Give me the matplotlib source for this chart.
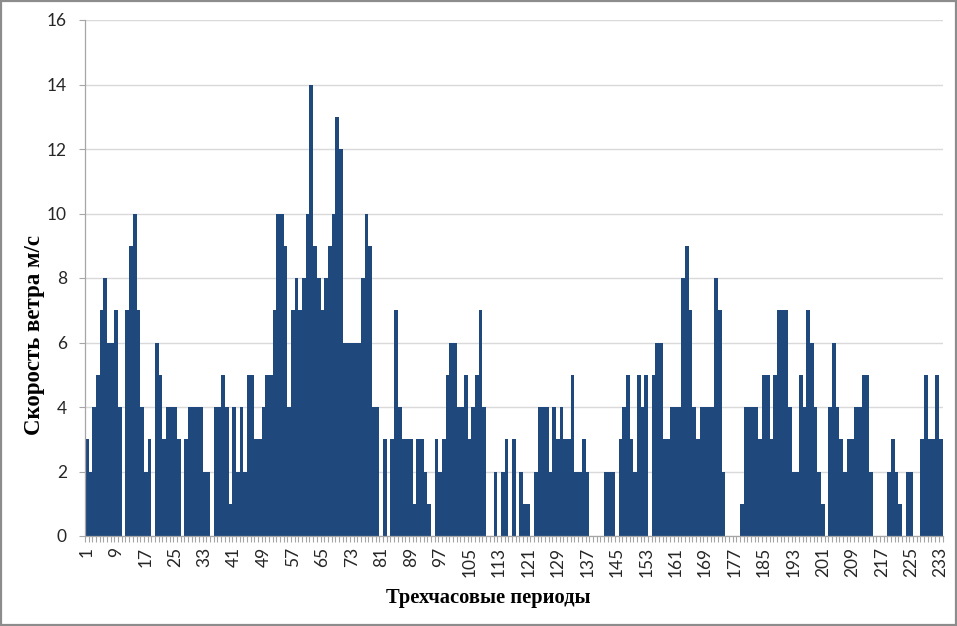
import matplotlib
matplotlib.use("Agg")
import matplotlib.pyplot as plt
from matplotlib.patches import Rectangle
import numpy as np

# Wind speed (m/s) for each three-hour period
periods = list(range(1, 234))
wind_speed = [
    3, 2, 4, 5, 7, 8, 6, 6, 7, 4,      # 1-10
    0, 7, 9, 10, 7, 4, 2, 3, 0, 6,     # 11-20
    5, 3, 4, 4, 4, 3, 0, 3, 4, 4,      # 21-30
    4, 4, 2, 2, 0, 4, 4, 5, 4, 1,      # 31-40
    4, 2, 4, 2, 5, 5, 3, 3, 4, 5,      # 41-50
    5, 7, 10, 10, 9, 4, 7, 8, 7, 8,    # 51-60
    10, 14, 9, 8, 7, 8, 9, 10, 13, 12, # 61-70
    6, 6, 6, 6, 6, 8, 10, 9, 4, 4,     # 71-80
    0, 3, 0, 3, 7, 4, 3, 3, 3, 1,      # 81-90
    3, 3, 2, 1, 0, 3, 2, 3, 5, 6,      # 91-100
    6, 4, 4, 5, 3, 4, 5, 7, 4, 0,      # 101-110
    0, 2, 0, 2, 3, 0, 3, 0, 2, 1,      # 111-120
    1, 0, 2, 4, 4, 4, 2, 4, 3, 4,      # 121-130
    3, 3, 5, 2, 2, 3, 2, 0, 0, 0,      # 131-140
    0, 2, 2, 2, 0, 3, 4, 5, 3, 2,      # 141-150
    5, 4, 5, 0, 5, 6, 6, 3, 3, 4,      # 151-160
    4, 4, 8, 9, 7, 4, 3, 4, 4, 4,      # 161-170
    4, 8, 7, 2, 0, 0, 0, 0, 1, 4,      # 171-180
    4, 4, 4, 3, 5, 5, 3, 5, 7, 7,      # 181-190
    7, 4, 2, 2, 5, 4, 7, 6, 4, 2,      # 191-200
    1, 0, 4, 6, 4, 3, 2, 3, 3, 4,      # 201-210
    4, 5, 5, 2, 0, 0, 0, 0, 2, 3,      # 211-220
    2, 1, 0, 2, 2, 0, 0, 3, 5, 3,      # 221-230
    3, 5, 3,                           # 231-233
]
x_tick_labels = list(range(1, 234, 8))
y_ticks = list(range(0, 17, 2))

ylabel_text = "Скорость ветра м/с"
xlabel_text = "Трехчасовые периоды"

bar_color = "#1F497D"
grid_color = "#D9D9D9"
axis_color = "#A6A6A6"
text_color = "#262626"

plt.rcParams["font.family"] = ["Lato", "DejaVu Sans"]

W, H = 957, 626
fig = plt.figure(figsize=(W / 100, H / 100), dpi=100)
ax = fig.add_axes([85 / W, 1 - 536 / H, (942.5 - 85) / W, (536 - 20) / H])

ax.bar(periods, wind_speed, width=1.0, color=bar_color, edgecolor="none", zorder=2)

ax.set_xlim(0.5, len(periods) + 0.5)
ax.set_ylim(0, 16)
ax.set_yticks(y_ticks)
ax.set_yticklabels([str(v) for v in y_ticks], fontsize=12.5, color=text_color)
ax.yaxis.grid(True, color=grid_color, linewidth=1.0, zorder=0)
ax.set_axisbelow(True)

ax.set_xticks(x_tick_labels)
ax.set_xticklabels([str(v) for v in x_tick_labels], rotation=90, fontsize=12.5,
                   color=text_color)
ax.set_xticks(np.arange(0.5, len(periods) + 1, 1.0), minor=True)
ax.tick_params(axis="x", which="major", length=0, pad=8)
ax.tick_params(axis="x", which="minor", length=4.5, width=0.8, color=axis_color,
               direction="out")
ax.tick_params(axis="y", which="major", length=4, width=0.8, color=axis_color,
               pad=9)

for side in ("top", "right"):
    ax.spines[side].set_visible(False)
for side in ("left", "bottom"):
    ax.spines[side].set_color(axis_color)
    ax.spines[side].set_linewidth(0.9)

fig.text(35 / W, 1 - 335 / H, ylabel_text, rotation=90, ha="center", va="center",
         fontsize=16.5, fontweight="bold", family=["Liberation Serif"], color="black")
fig.text(488 / W, 1 - 598 / H, xlabel_text, ha="center", va="center",
         fontsize=14.8, fontweight="bold", family=["Liberation Serif"], color="black")

fig.patches.append(Rectangle((0.0015, 0.002), 0.997, 0.996, transform=fig.transFigure,
                             fill=False, edgecolor="#8C8C8C", linewidth=1.6))

fig.savefig("out.png", dpi=100)
